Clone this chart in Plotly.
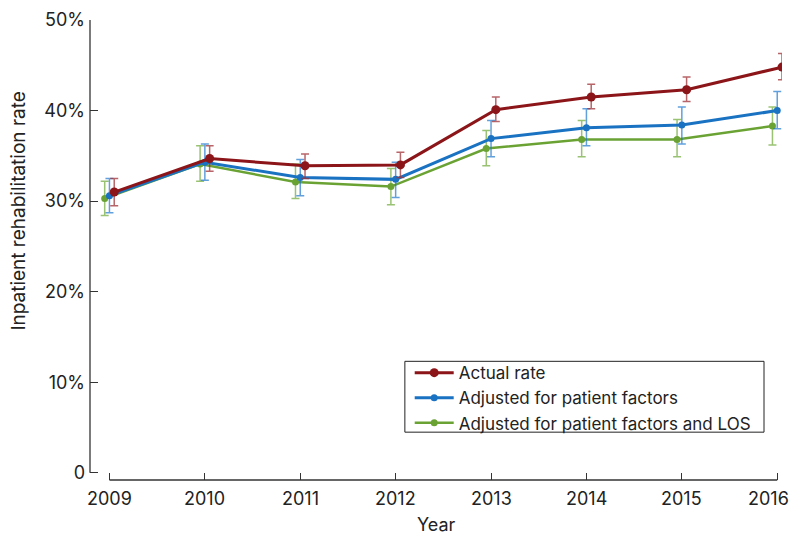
import plotly.graph_objects as go

years = [2009, 2010, 2011, 2012, 2013, 2014, 2015, 2016]

actual = [31.0, 34.7, 33.9, 34.0, 40.1, 41.5, 42.3, 44.8]
actual_hi = [32.5, 36.1, 35.2, 35.4, 41.5, 42.9, 43.7, 46.3]
actual_lo = [29.5, 33.3, 32.5, 32.6, 38.8, 40.2, 41.0, 43.4]

patient = [30.6, 34.3, 32.6, 32.4, 36.9, 38.1, 38.4, 40.0]
patient_hi = [32.5, 36.3, 34.6, 34.3, 38.9, 40.2, 40.4, 42.1]
patient_lo = [28.7, 32.3, 30.6, 30.4, 34.9, 36.1, 36.3, 38.0]

patient_los = [30.3, 34.1, 32.1, 31.6, 35.8, 36.8, 36.8, 38.3]
patient_los_hi = [32.2, 36.1, 34.1, 33.6, 37.8, 38.9, 39.0, 40.4]
patient_los_lo = [28.4, 32.2, 30.3, 29.6, 33.9, 34.9, 34.9, 36.2]

y_ticks = [0, 10, 20, 30, 40, 50]
y_tick_labels = ["0", "10%", "20%", "30%", "40%", "50%"]

FONT = "Inter"
INK = "#333333"
TEXT = "#222222"

series = [
    ("Actual rate", actual, actual_hi, actual_lo, 0.05,
     "#8b1518", "rgba(160,50,55,0.75)", 3, 9),
    ("Adjusted for patient factors", patient, patient_hi, patient_lo, 0.0,
     "#1a72c2", "rgba(30,120,205,0.7)", 3, 7),
    ("Adjusted for patient factors and LOS", patient_los, patient_los_hi, patient_los_lo, -0.05,
     "#6aa334", "rgba(110,170,55,0.7)", 2.5, 7),
]

fig = go.Figure()
# draw back to front so the actual rate sits on top
for name, vals, hi, lo, dx, color, ecolor, lw, ms in reversed(series):
    fig.add_trace(go.Scatter(
        x=[y + dx for y in years],
        y=vals,
        name=name,
        mode="lines+markers",
        line=dict(color=color, width=lw),
        marker=dict(color=color, size=ms),
        error_y=dict(
            type="data",
            symmetric=False,
            array=[h - v for h, v in zip(hi, vals)],
            arrayminus=[v - l for v, l in zip(vals, lo)],
            color=ecolor,
            thickness=1.5,
            width=4,
        ),
    ))

# detached axis lines: x runs 2009-2016, y runs 0-50%
fig.add_shape(type="line", xref="x", yref="paper", x0=years[0], x1=years[-1], y0=0, y1=0,
              line=dict(color=INK, width=1.3))
fig.add_shape(type="line", xref="paper", yref="y", x0=0, x1=0, y0=y_ticks[0], y1=y_ticks[-1],
              line=dict(color=INK, width=1.3))

# year labels under the x axis; the last one is pulled in to stay on the page
for i, yr in enumerate(years):
    last = i == len(years) - 1
    fig.add_annotation(text=str(yr), xref="x", yref="paper", x=yr, y=-0.0403,
                       xanchor="right" if last else "center", xshift=14 if last else 0,
                       yanchor="middle", showarrow=False,
                       font=dict(family=FONT, size=18, color=TEXT))

# legend frame
fig.add_shape(type="rect", xref="paper", yref="paper",
              x0=0.455, x1=0.974, y0=0.104, y1=0.258,
              line=dict(color=TEXT, width=1), fillcolor="white", layer="above")

fig.add_annotation(text="Inpatient rehabilitation rate", xref="paper", yref="paper",
                   x=-0.103, y=0.585, textangle=-90, showarrow=False,
                   xanchor="center", yanchor="middle",
                   font=dict(family=FONT, size=19, color=TEXT))
fig.add_annotation(text="Year", xref="paper", yref="paper",
                   x=0.5, y=-0.097, showarrow=False, yanchor="middle",
                   font=dict(family=FONT, size=18, color=TEXT))

fig.update_layout(
    width=792, height=535,
    margin=dict(l=90, r=10, t=20, b=55),
    paper_bgcolor="white", plot_bgcolor="white",
    font=dict(family=FONT, size=18, color=TEXT),
    showlegend=True,
    legend=dict(
        x=0.462, y=0.178, xanchor="left", yanchor="middle",
        borderwidth=0, bgcolor="rgba(0,0,0,0)",
        traceorder="reversed", itemwidth=39,
        font=dict(family=FONT, size=17, color=TEXT),
        tracegroupgap=0,
    ),
    xaxis=dict(
        range=[2008.796, 2016.05],
        tickvals=years, showticklabels=False,
        ticks="inside", ticklen=7, tickcolor=INK, tickwidth=1.2,
        showline=False, showgrid=False, zeroline=False, automargin=False,
    ),
    yaxis=dict(
        range=[-0.8, 50],
        tickvals=y_ticks, ticktext=y_tick_labels,
        ticks="inside", ticklen=8, tickcolor=INK, tickwidth=1.2,
        ticklabelstandoff=4,
        showline=False, showgrid=False, zeroline=False, automargin=False,
    ),
)

fig.write_html("out.html")
